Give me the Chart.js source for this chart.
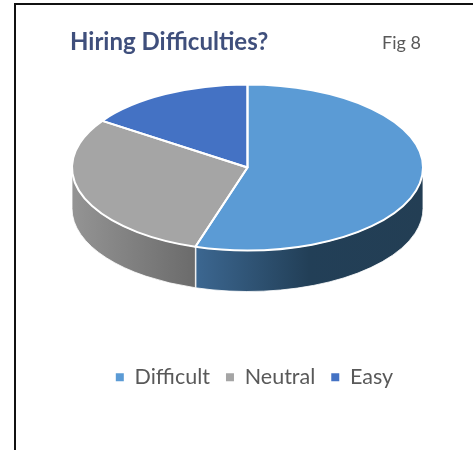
<!DOCTYPE html>
<html>
<head>
<meta charset="utf-8">
<script src="https://cdn.jsdelivr.net/npm/chart.js@4"></script>
<style>
html,body{margin:0;padding:0;background:#fff;width:473px;height:450px;overflow:hidden}
#wrap{position:relative;width:473px;height:450px}
#frame{position:absolute;left:14px;top:3px;width:470px;height:460px;border:2px solid #111;box-sizing:border-box;pointer-events:none}
#fig{position:absolute;left:382px;top:31px;font:18px Lato,sans-serif;color:#595959;line-height:22px;font-variant-ligatures:none}
canvas{position:absolute;left:0;top:0}
</style>
</head>
<body>
<div id="wrap">
<canvas id="c" width="473" height="450"></canvas>
<div id="frame"></div>
<div id="fig">Fig 8</div>
</div>
<script>
const categories = ["Difficult", "Neutral", "Easy"];
const shares = [54.8, 29.7, 15.5];
const sliceColors = ["#5b9bd5", "#a5a5a5", "#4472c4"];
const sideStops = [
  [[0, "#3c6791"], [0.5, "#223f57"], [1, "#233e54"]],
  [[0, "#949494"], [1, "#6b6b6b"]],
  [[0, "#2f5597"], [1, "#2f5597"]]
];
const chartTitle = "Hiring Difficulties?";

const pie3d = {
  id: "pie3d",
  beforeInit(chart) {
    chart.ctx.letterSpacing = "0.01px";
  },
  afterLayout(chart, args, o) {
    chart.legend.left += o.legendShift;
    chart.legend.right += o.legendShift;
  },
  beforeDatasetsDraw(chart, args, o) {
    const ctx = chart.ctx, arcs = chart.getDatasetMeta(0).data;
    const rx = arcs[0].outerRadius, ry = rx * o.squash;
    const cx = arcs[0].x, cy = o.centerY;
    arcs.forEach((arc, i) => {
      const a0 = Math.max(arc.startAngle, 0), a1 = Math.min(arc.endAngle, Math.PI);
      if (a1 <= a0) return;
      const x0 = cx + rx * Math.cos(a1), x1 = cx + rx * Math.cos(a0);
      const g = ctx.createLinearGradient(x0, 0, x1, 0);
      sideStops[i].forEach(s => g.addColorStop(s[0], s[1]));
      ctx.save();
      ctx.beginPath();
      ctx.ellipse(cx, cy, rx, ry, 0, a0, a1);
      ctx.ellipse(cx, cy + o.depth, rx, ry, 0, a1, a0, true);
      ctx.closePath();
      ctx.fillStyle = g;
      ctx.fill();
      ctx.strokeStyle = "#ffffff";
      ctx.lineWidth = 0.8;
      ctx.stroke();
      if (a1 < Math.PI) {
        ctx.beginPath();
        ctx.moveTo(cx + rx * Math.cos(a1), cy + ry * Math.sin(a1));
        ctx.lineTo(cx + rx * Math.cos(a1), cy + o.depth + ry * Math.sin(a1));
        ctx.lineWidth = 2;
        ctx.stroke();
      }
      ctx.restore();
    });
    ctx.save();
    ctx.translate(cx, cy);
    ctx.scale(1, o.squash);
    ctx.translate(-arcs[0].x, -arcs[0].y);
  },
  afterDatasetsDraw(chart, args, o) {
    const ctx = chart.ctx, arcs = chart.getDatasetMeta(0).data;
    ctx.restore();
    const rx = arcs[0].outerRadius, ry = rx * o.squash;
    const cx = arcs[0].x, cy = o.centerY;
    ctx.save();
    ctx.strokeStyle = "#ffffff";
    ctx.lineWidth = 2;
    ctx.lineJoin = "round";
    arcs.forEach(arc => {
      ctx.beginPath();
      ctx.moveTo(cx, cy);
      ctx.ellipse(cx, cy, rx, ry, 0, arc.startAngle, arc.endAngle);
      ctx.closePath();
      ctx.stroke();
    });
    ctx.restore();
  }
};

new Chart(document.getElementById("c"), {
  type: "pie",
  data: {
    labels: categories,
    datasets: [{ data: shares, backgroundColor: sliceColors, borderWidth: 0, clip: false, radius: 175.5 }]
  },
  options: {
    responsive: false,
    animation: false,
    events: [],
    layout: { padding: { left: 70, right: 48, top: 28, bottom: 52 } },
    plugins: {
      tooltip: { enabled: false },
      title: {
        display: true,
        text: chartTitle,
        align: "start",
        color: "#3f4f7c",
        font: { family: "Lato", size: 24, weight: "bold" },
        padding: { top: 0, bottom: 10 }
      },
      legend: {
        position: "bottom",
        labels: {
          boxWidth: 8,
          boxHeight: 8,
          padding: 16,
          color: "#595959",
          font: { family: "Lato", size: 21.5 }
        }
      },
      pie3d: { squash: 0.473, depth: 41, centerY: 167.5, legendShift: 7 }
    }
  },
  plugins: [pie3d]
});
</script>
</body>
</html>
